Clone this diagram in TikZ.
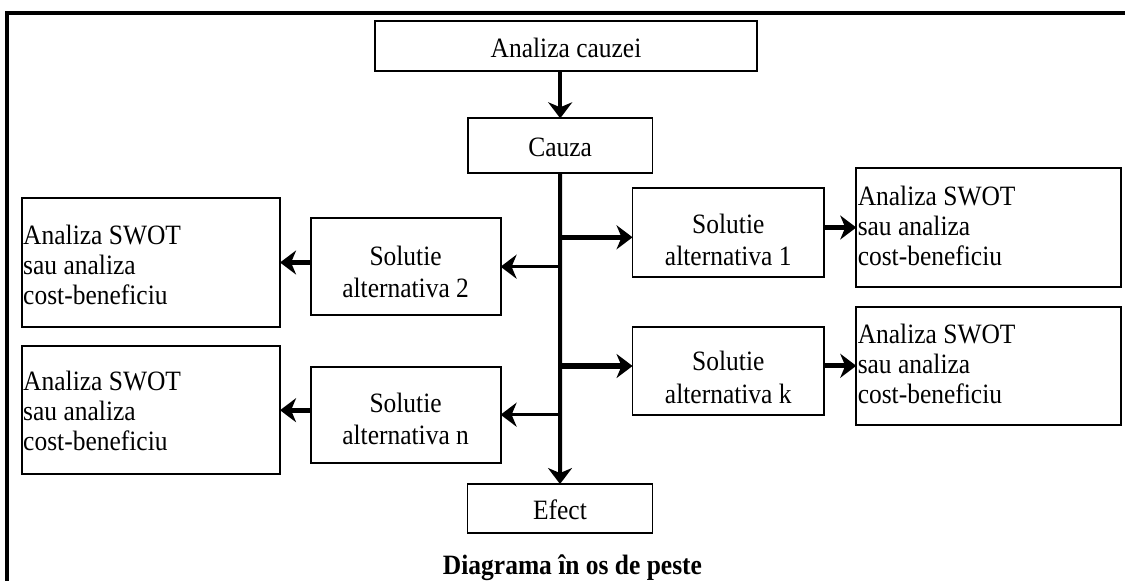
\documentclass[tikz,border=0pt]{standalone}
\usepackage{fontspec}
\usepackage{graphicx}
\setmainfont{Liberation Serif}
\usetikzlibrary{arrows.meta}
\newcommand{\hs}{0.91}
\newcommand{\shc}[2]{\raisebox{-#1pt}[\height][\depth]{\scalebox{\hs}[1]{\begin{tabular}{@{}c@{}}#2\end{tabular}}}}
\newcommand{\shl}[3]{\makebox[#2pt][l]{\hspace{1.5pt}\raisebox{-#1pt}[\height][\depth]{\scalebox{\hs}[1]{\begin{tabular}{@{}l@{}}#3\end{tabular}}}}}
\tikzset{
  box/.style={draw, line width=1.8pt, inner sep=0pt, outer sep=0pt, font=\fontsize{28}{30}\selectfont},
  solbox/.style={box, font=\fontsize{28}{32.5}\selectfont},
  swotbox/.style={box, font=\fontsize{28}{30}\selectfont},
  tip/.style={-{Stealth[length=16pt,width=24pt,inset=5pt]}},
  trunk/.style={tip, line width=4pt},
  rbranch/.style={tip, line width=5.5pt},
  lbranch/.style={tip, line width=3pt},
  toswot/.style={tip, line width=5pt}
}
\begin{document}
\begin{tikzpicture}[x=1pt,y=-1pt]
\clip (0,0) rectangle (1125,581);
\draw[line width=4pt] (1135,12.5) -| (7,595);

\node[box, minimum width=381.7pt, minimum height=50pt] (ac) at (566,45.7) {\shc{5.8}{Analiza cauzei}};
\node[box, minimum width=184.5pt, minimum height=55pt] (cauza) at (560.2,145.8) {\shc{4.9}{Cauza}};
\node[box, minimum width=185pt, minimum height=48.7pt] (efect) at (560,508.4) {\shc{4.9}{Efect}};

\node[solbox, minimum width=191.5pt, minimum height=88.4pt] (sol1) at (728.3,232.5) {\shc{10.5}{Solutie\\alternativa 1}};
\node[solbox, minimum width=191.5pt, minimum height=88.3pt] (solk) at (728.3,370.8) {\shc{9.8}{Solutie\\alternativa k}};
\node[solbox, minimum width=190pt, minimum height=96.7pt] (sol2) at (405.6,266.7) {\shc{8.5}{Solutie\\alternativa 2}};
\node[solbox, minimum width=190pt, minimum height=96pt] (soln) at (405.6,414.7) {\shc{7.5}{Solutie\\alternativa n}};

\node[swotbox, minimum width=264.5pt, minimum height=118.4pt] (swR1) at (988.5,227.5) {\shl{1.5}{264.5}{Analiza SWOT\\sau analiza\\cost-beneficiu}};
\node[swotbox, minimum width=264.5pt, minimum height=118.3pt] (swR2) at (988.5,365.8) {\shl{1.2}{264.5}{Analiza SWOT\\sau analiza\\cost-beneficiu}};
\node[swotbox, minimum width=258.3pt, minimum height=128.4pt] (swL1) at (150.9,262.5) {\shl{5.5}{258.3}{Analiza SWOT\\sau analiza\\cost-beneficiu}};
\node[swotbox, minimum width=258.3pt, minimum height=128.3pt] (swL2) at (150.9,410.2) {\shl{4.5}{258.3}{Analiza SWOT\\sau analiza\\cost-beneficiu}};

\node[anchor=base, font=\bfseries\fontsize{28}{30}\selectfont] (caption) at (572.5,574) {\scalebox{\hs}[1]{Diagrama în os de peste}};

\draw[trunk] (ac.south -| cauza.north) -- (cauza.north);
\draw[trunk] (cauza.south) -- (efect.north);
\coordinate (b1) at (560.2,237.3);
\coordinate (bk) at (560.2,366);
\draw[rbranch] (b1) -- (b1 -| sol1.west);
\draw[rbranch] (bk) -- (bk -| solk.west);
\draw[lbranch] (cauza.south |- sol2.east) -- (sol2.east);
\draw[lbranch] (cauza.south |- soln.east) -- (soln.east);
\draw[toswot] (sol1.east |- swR1.west) -- (swR1.west);
\draw[toswot] (solk.east |- swR2.west) -- (swR2.west);
\draw[toswot] (sol2.west |- swL1.east) -- (swL1.east);
\draw[toswot] (soln.west |- swL2.east) -- (swL2.east);
\end{tikzpicture}
\end{document}
